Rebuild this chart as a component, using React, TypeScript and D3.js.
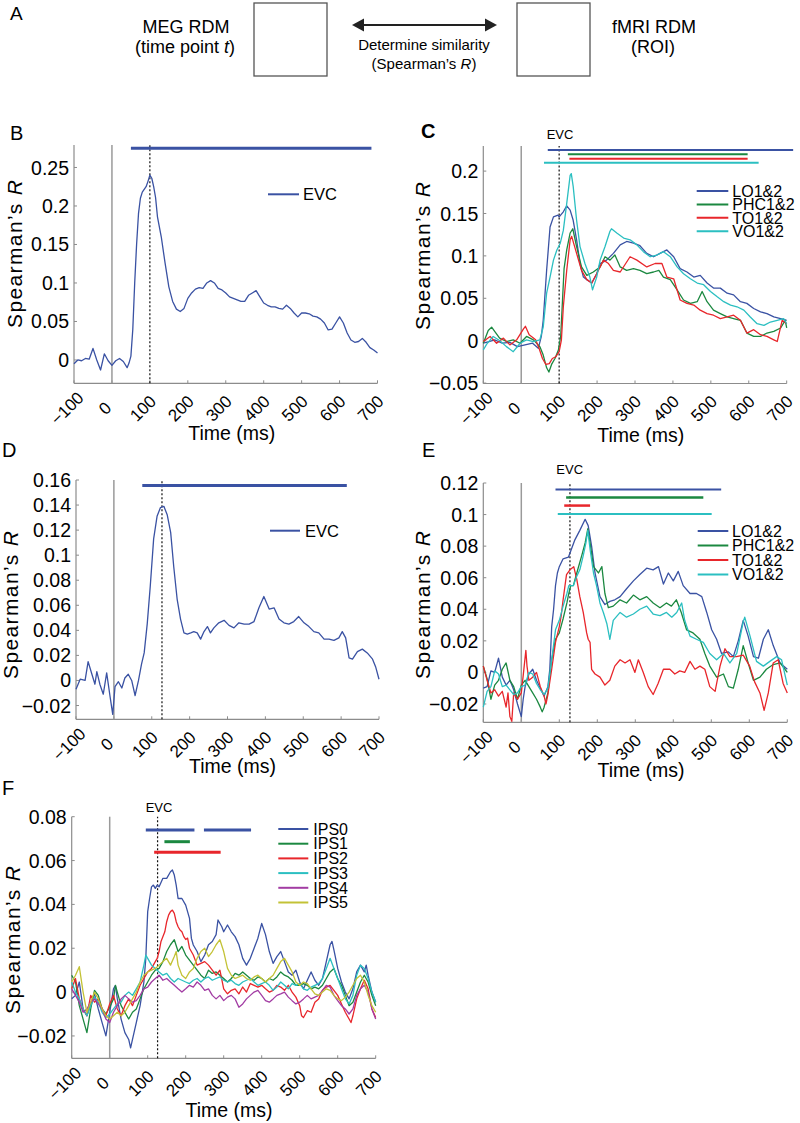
import React from 'react';
import * as d3 from 'd3';

type Pt = [number, number];

const BLUE = '#3a52a3';
const GREEN = '#1b8840';
const RED = '#e8262b';
const CYAN = '#2bbfc1';
const MAGENTA = '#a23ca3';
const YELLOW = '#c3c236';

const X_TICKS = [-100, 0, 100, 200, 300, 400, 500, 600, 700];

// ---------- Panel B ----------
const B_EVC: Pt[] = [[-100,-0.005],[-90,0.0],[-80,-0.001],[-70,0.002],[-60,0.001],[-50,0.015],[-40,0.0],[-30,-0.013],[-20,0.008],[-10,-0.001],[0,-0.007],[10,-0.001],[20,0.002],[30,-0.002],[40,-0.010],[45,-0.004],[50,0.005],[55,0.04],[60,0.10],[65,0.15],[70,0.19],[75,0.21],[80,0.218],[90,0.225],[95,0.232],[100,0.240],[105,0.236],[110,0.225],[115,0.211],[120,0.186],[130,0.160],[140,0.126],[150,0.095],[160,0.076],[170,0.066],[180,0.063],[190,0.067],[200,0.080],[210,0.087],[220,0.092],[230,0.094],[240,0.093],[250,0.100],[260,0.103],[270,0.100],[280,0.093],[290,0.091],[300,0.087],[310,0.082],[320,0.080],[330,0.078],[340,0.076],[350,0.076],[360,0.084],[370,0.087],[380,0.090],[390,0.082],[400,0.074],[410,0.071],[420,0.069],[430,0.069],[440,0.067],[450,0.066],[460,0.071],[470,0.067],[480,0.061],[490,0.056],[500,0.061],[510,0.061],[520,0.060],[530,0.057],[540,0.056],[550,0.053],[560,0.048],[570,0.039],[580,0.040],[590,0.048],[600,0.056],[610,0.048],[620,0.035],[630,0.026],[640,0.023],[650,0.024],[660,0.028],[670,0.023],[680,0.016],[690,0.013],[700,0.009]];
const B_TICKS = [0, 0.05, 0.1, 0.15, 0.2, 0.25];

// ---------- Panel C ----------
const C_LO: Pt[] = [[-100,-0.003],[-85,-0.001],[-70,0.001],[-50,-0.003],[-30,-0.002],[-10,-0.007],[10,-0.005],[30,-0.003],[45,-0.009],[53,0.005],[58,0.024],[67,0.083],[76,0.134],[85,0.146],[97,0.148],[100,0.146],[111,0.152],[120,0.159],[129,0.154],[137,0.142],[146,0.119],[155,0.091],[164,0.075],[173,0.072],[186,0.068],[199,0.079],[208,0.091],[217,0.093],[225,0.095],[243,0.103],[261,0.113],[278,0.117],[296,0.115],[313,0.112],[331,0.103],[349,0.099],[366,0.103],[384,0.107],[402,0.099],[419,0.085],[437,0.081],[455,0.075],[472,0.077],[490,0.068],[507,0.062],[525,0.062],[543,0.056],[560,0.054],[578,0.046],[595,0.044],[613,0.038],[631,0.034],[648,0.032],[666,0.028],[684,0.026],[700,0.024]];
const C_PHC: Pt[] = [[-100,-0.003],[-87,0.012],[-78,0.016],[-70,0.011],[-57,0.003],[-39,-0.001],[-21,0.001],[-3,-0.003],[14,0.005],[32,0.001],[49,-0.007],[58,-0.017],[67,-0.032],[73,-0.037],[80,-0.028],[89,-0.021],[98,-0.011],[104,0.005],[108,0.04],[113,0.085],[120,0.107],[129,0.127],[136,0.132],[146,0.111],[159,0.087],[173,0.077],[190,0.081],[208,0.087],[221,0.099],[234,0.095],[247,0.101],[261,0.087],[278,0.083],[296,0.085],[313,0.083],[331,0.079],[349,0.081],[363,0.083],[375,0.075],[393,0.072],[411,0.060],[428,0.048],[446,0.044],[464,0.046],[477,0.058],[490,0.046],[507,0.036],[525,0.032],[543,0.028],[560,0.026],[578,0.024],[595,0.009],[613,0.005],[631,0.005],[648,0.009],[666,0.011],[684,0.015],[696,0.024],[700,0.015]];
const C_TO: Pt[] = [[-100,-0.001],[-82,0.005],[-65,-0.003],[-47,0.003],[-30,-0.005],[-12,0.001],[6,0.014],[11,0.017],[21,0.007],[38,0.001],[47,-0.009],[56,-0.021],[65,-0.028],[74,-0.027],[82,-0.021],[91,-0.019],[100,-0.013],[106,0.001],[111,0.040],[120,0.083],[129,0.119],[133,0.123],[146,0.103],[159,0.083],[173,0.072],[186,0.068],[199,0.079],[217,0.095],[230,0.091],[243,0.083],[261,0.081],[287,0.099],[305,0.095],[331,0.087],[353,0.091],[371,0.091],[384,0.075],[402,0.073],[419,0.048],[437,0.044],[455,0.042],[472,0.036],[490,0.032],[507,0.030],[525,0.026],[543,0.028],[560,0.030],[578,0.024],[595,0.009],[613,0.013],[631,0.007],[648,0.005],[666,0.001],[675,-0.001],[688,0.024],[700,0.020]];
const C_VO: Pt[] = [[-100,-0.011],[-91,-0.004],[-74,0.005],[-56,0.0],[-39,-0.007],[-21,-0.013],[-3,-0.003],[14,0.001],[32,-0.001],[49,0.001],[58,0.016],[67,0.056],[76,0.075],[85,0.095],[94,0.107],[103,0.115],[111,0.130],[120,0.162],[129,0.195],[132,0.197],[137,0.182],[146,0.142],[155,0.111],[168,0.091],[181,0.075],[188,0.060],[199,0.075],[208,0.095],[221,0.111],[234,0.129],[238,0.132],[252,0.127],[270,0.121],[287,0.119],[305,0.113],[322,0.105],[340,0.099],[358,0.101],[375,0.105],[393,0.099],[411,0.087],[428,0.079],[446,0.073],[464,0.068],[481,0.066],[499,0.058],[516,0.052],[534,0.046],[552,0.042],[569,0.040],[587,0.036],[604,0.028],[622,0.020],[640,0.018],[657,0.022],[675,0.024],[692,0.026],[700,0.020]];
const C_TICKS = [-0.05, 0, 0.05, 0.1, 0.15, 0.2];

// ---------- Panel D ----------
const D_EVC: Pt[] = [[-100,-0.007],[-89,0.001],[-76,0.0],[-68,0.015],[-59,0.006],[-50,-0.003],[-45,0.007],[-37,-0.003],[-28,-0.011],[-19,0.006],[-10,-0.013],[-3,-0.027],[3,-0.005],[12,-0.001],[21,-0.006],[29,0.002],[38,0.005],[47,0.0],[56,-0.012],[65,0.0],[73,0.013],[80,0.022],[88,0.045],[96,0.075],[105,0.113],[114,0.131],[123,0.138],[132,0.139],[141,0.132],[150,0.118],[158,0.091],[167,0.065],[176,0.049],[185,0.038],[194,0.037],[203,0.038],[211,0.039],[220,0.038],[229,0.033],[238,0.039],[247,0.043],[255,0.038],[264,0.042],[277,0.046],[291,0.048],[304,0.044],[317,0.042],[330,0.046],[344,0.045],[357,0.045],[370,0.047],[383,0.058],[396,0.067],[410,0.057],[423,0.058],[436,0.049],[449,0.046],[462,0.045],[475,0.047],[488,0.051],[502,0.046],[515,0.043],[528,0.039],[541,0.038],[555,0.033],[568,0.033],[581,0.032],[594,0.034],[603,0.039],[612,0.034],[621,0.018],[630,0.017],[643,0.023],[656,0.025],[669,0.022],[683,0.017],[691,0.011],[700,0.001]];
const D_TICKS = [-0.02, 0, 0.02, 0.04, 0.06, 0.08, 0.1, 0.12, 0.14, 0.16];

// ---------- Panel E ----------
const E_LO: Pt[] = [[-100,-0.010],[-90,-0.009],[-80,0.001],[-70,0.0],[-60,0.009],[-50,-0.003],[-40,-0.008],[-30,-0.005],[-20,-0.011],[-10,-0.020],[0,-0.028],[5,-0.017],[10,-0.009],[20,-0.001],[30,0.002],[40,-0.005],[50,-0.010],[60,-0.015],[70,-0.009],[75,0.002],[80,0.029],[85,0.040],[90,0.055],[95,0.063],[100,0.067],[110,0.072],[124,0.073],[141,0.084],[154,0.090],[168,0.097],[176,0.093],[185,0.080],[194,0.063],[207,0.048],[220,0.043],[233,0.045],[246,0.046],[260,0.048],[277,0.053],[295,0.058],[312,0.062],[330,0.066],[347,0.065],[361,0.067],[374,0.056],[387,0.063],[400,0.058],[413,0.064],[426,0.055],[444,0.050],[461,0.050],[475,0.048],[488,0.038],[501,0.027],[514,0.021],[527,0.012],[545,0.013],[558,0.010],[571,0.020],[584,0.033],[597,0.023],[611,0.010],[624,0.009],[637,0.021],[650,0.027],[663,0.017],[681,0.006],[700,0.002]];
const E_PHC: Pt[] = [[-100,0.004],[-90,-0.004],[-80,-0.017],[-70,-0.008],[-60,-0.005],[-50,0.002],[-40,0.006],[-30,-0.005],[-20,-0.009],[-10,-0.017],[0,-0.008],[10,-0.005],[20,-0.009],[30,-0.013],[40,-0.017],[50,-0.022],[55,-0.025],[60,-0.022],[70,-0.013],[80,0.008],[90,0.021],[100,0.025],[110,0.034],[120,0.044],[125,0.050],[130,0.055],[137,0.055],[146,0.063],[159,0.074],[168,0.082],[175,0.091],[181,0.082],[190,0.067],[203,0.063],[212,0.067],[220,0.050],[229,0.041],[242,0.042],[260,0.046],[277,0.044],[295,0.049],[312,0.046],[330,0.048],[347,0.044],[365,0.041],[382,0.044],[395,0.042],[408,0.046],[421,0.038],[435,0.027],[452,0.025],[470,0.021],[483,0.012],[496,0.004],[514,-0.003],[532,-0.001],[545,-0.009],[558,-0.010],[571,0.002],[584,0.017],[597,0.006],[611,-0.005],[628,-0.003],[645,0.002],[663,0.005],[681,0.006],[694,0.002],[700,0.0]];
const E_TO: Pt[] = [[-100,0.004],[-90,-0.005],[-80,-0.013],[-70,-0.011],[-60,-0.015],[-50,-0.012],[-40,-0.022],[-35,-0.013],[-30,-0.028],[-25,-0.031],[-20,-0.013],[-10,-0.017],[0,-0.013],[5,-0.002],[12,0.014],[15,0.004],[20,-0.005],[30,-0.003],[40,0.0],[50,-0.009],[60,-0.015],[65,-0.020],[70,-0.014],[80,0.002],[90,0.019],[100,0.029],[105,0.036],[110,0.046],[115,0.055],[119,0.062],[128,0.065],[138,0.067],[146,0.059],[154,0.048],[163,0.038],[172,0.025],[176,0.021],[181,0.019],[185,0.002],[194,-0.001],[207,-0.003],[220,-0.008],[233,-0.005],[246,0.004],[260,0.008],[273,0.006],[286,0.008],[299,0.0],[308,0.008],[321,0.0],[334,-0.009],[347,-0.014],[360,-0.007],[374,0.002],[391,0.002],[404,-0.001],[417,0.001],[430,0.0],[444,0.007],[457,0.002],[470,0.004],[483,0.002],[496,-0.009],[510,-0.012],[523,0.004],[536,0.015],[549,0.010],[566,0.010],[584,0.011],[601,0.004],[614,-0.006],[628,-0.013],[639,-0.024],[650,-0.013],[663,0.006],[676,0.008],[689,-0.007],[700,-0.013]];
const E_VO: Pt[] = [[-100,-0.022],[-90,-0.012],[-80,-0.009],[-70,0.001],[-60,-0.001],[-50,-0.009],[-40,-0.008],[-30,-0.011],[-20,-0.014],[-10,-0.013],[0,-0.009],[10,-0.008],[20,0.0],[30,-0.001],[40,-0.007],[50,-0.011],[60,-0.014],[70,-0.010],[80,0.008],[90,0.027],[100,0.033],[110,0.042],[120,0.050],[125,0.055],[137,0.055],[146,0.061],[154,0.065],[163,0.074],[170,0.082],[175,0.090],[181,0.078],[190,0.063],[198,0.055],[207,0.044],[216,0.038],[225,0.031],[233,0.021],[242,0.033],[260,0.038],[277,0.035],[295,0.037],[312,0.040],[330,0.042],[347,0.037],[365,0.036],[382,0.038],[396,0.035],[409,0.038],[422,0.044],[430,0.033],[444,0.023],[461,0.021],[479,0.019],[496,0.012],[514,0.008],[532,0.012],[549,0.006],[567,0.012],[584,0.032],[588,0.035],[602,0.023],[619,0.007],[637,0.004],[654,0.007],[672,0.010],[685,0.008],[700,-0.008]];
const E_TICKS = [-0.02, 0, 0.02, 0.04, 0.06, 0.08, 0.1, 0.12];

// ---------- Panel F ----------
const F_IPS0: Pt[] = [[-100,-0.003],[-90,-0.0015],[-80,0.0046],[-70,-0.0077],[-60,-0.0108],[-50,-0.0054],[-40,-0.0008],[-30,-0.0077],[-20,-0.0139],[-10,-0.020],[0,-0.0092],[10,0.0015],[15,0.003],[20,-0.003],[30,-0.0123],[40,-0.0185],[50,-0.0216],[55,-0.0254],[60,-0.0216],[70,-0.0139],[80,-0.0062],[90,0.0046],[95,0.0154],[100,0.0367],[105,0.0427],[110,0.048],[115,0.0488],[120,0.0473],[125,0.0488],[130,0.048],[140,0.0519],[150,0.0519],[160,0.0549],[165,0.0557],[170,0.0534],[175,0.0488],[180,0.0427],[190,0.0427],[200,0.0397],[210,0.0336],[215,0.0245],[220,0.0215],[230,0.0185],[240,0.0139],[250,0.0169],[260,0.0216],[270,0.0231],[280,0.0262],[285,0.0329],[295,0.0298],[300,0.0275],[310,0.0306],[320,0.0275],[330,0.0253],[340,0.0216],[350,0.0154],[360,0.0123],[370,0.0154],[380,0.020],[390,0.0246],[400,0.0313],[410,0.0262],[420,0.0185],[430,0.0131],[440,0.0162],[450,0.0185],[460,0.0139],[470,0.0092],[480,0.0077],[490,0.010],[500,0.0046],[510,0.0015],[520,0.0054],[530,0.0092],[540,0.0054],[550,0.0031],[560,0.0062],[570,0.0139],[580,0.0216],[585,0.0231],[590,0.0193],[600,0.0108],[610,0.0046],[620,0.0],[630,-0.0031],[640,0.0015],[650,0.0092],[660,0.0123],[670,0.0092],[675,0.0123],[680,0.0077],[690,0.0],[700,-0.0046]];
const F_IPS1: Pt[] = [[-100,0.0077],[-90,0.0046],[-80,-0.0062],[-70,-0.0123],[-60,-0.0185],[-50,-0.0077],[-40,0.0008],[-30,-0.0015],[-20,-0.0077],[-10,-0.010],[0,-0.0069],[10,-0.0031],[15,0.0031],[20,0.0],[30,-0.0062],[40,-0.0092],[50,-0.0123],[60,-0.0092],[70,-0.0077],[80,-0.0031],[90,0.0015],[100,0.0046],[110,0.0077],[120,0.010],[130,0.0108],[140,0.0139],[150,0.0185],[160,0.0216],[170,0.0239],[180,0.0185],[190,0.0208],[200,0.0169],[210,0.0146],[220,0.0123],[230,0.010],[240,0.0077],[250,0.0062],[260,0.010],[270,0.0085],[280,0.0092],[290,0.0077],[300,0.0062],[310,0.0046],[320,0.0062],[330,0.0085],[340,0.0077],[350,0.0092],[360,0.0077],[370,0.0062],[380,0.0054],[390,0.0069],[400,0.0062],[410,0.0046],[420,0.0062],[430,0.0054],[440,0.0069],[450,0.0092],[460,0.0077],[470,0.0069],[480,0.0054],[490,0.0031],[500,0.0031],[510,0.0039],[520,0.0031],[530,0.0015],[540,0.0023],[550,0.0015],[560,0.0031],[570,0.0062],[580,0.0092],[590,0.0108],[600,0.0062],[610,0.0031],[620,-0.0015],[630,-0.0062],[640,-0.0046],[650,0.0],[660,0.0046],[670,0.0077],[680,0.0046],[690,-0.0015],[700,-0.0062]];
const F_IPS2: Pt[] = [[-100,0.0015],[-90,0.0062],[-80,-0.0031],[-70,-0.0077],[-60,-0.0108],[-50,-0.0015],[-40,-0.0046],[-30,-0.0031],[-20,-0.0077],[-10,-0.0108],[0,-0.0054],[10,-0.0015],[20,-0.0077],[30,-0.0108],[40,-0.0062],[50,-0.0031],[60,-0.0062],[70,-0.0015],[80,0.0031],[90,0.0062],[100,0.0092],[110,0.0108],[120,0.0139],[125,0.0154],[130,0.0185],[135,0.0231],[145,0.0275],[150,0.0321],[155,0.0351],[160,0.0367],[165,0.0374],[170,0.0359],[175,0.0321],[180,0.0298],[185,0.0283],[190,0.0275],[195,0.0253],[200,0.024],[205,0.0246],[210,0.020],[220,0.0169],[230,0.0123],[240,0.0131],[250,0.0139],[260,0.0123],[270,0.010],[280,0.0077],[290,0.010],[300,0.0015],[310,-0.0008],[320,0.0008],[330,0.0015],[340,-0.0008],[350,0.0023],[360,0.0],[370,0.0039],[380,0.0031],[390,0.0023],[400,0.0031],[410,0.0015],[420,0.0],[430,0.0008],[440,0.0031],[450,0.0023],[460,0.0008],[470,0.0031],[480,0.0],[490,-0.0023],[500,-0.0062],[505,-0.0108],[510,-0.0116],[520,-0.0085],[530,-0.0092],[540,-0.0046],[550,-0.0031],[560,0.0008],[570,0.0023],[580,0.0031],[590,0.0008],[600,-0.0015],[610,-0.0054],[620,-0.0092],[630,-0.0123],[635,-0.0139],[640,-0.0108],[650,-0.0031],[660,0.0015],[670,0.0054],[680,0.0015],[690,-0.0077],[700,-0.0116]];
const F_IPS3: Pt[] = [[-100,0.0046],[-90,0.0],[-80,-0.0031],[-70,-0.0077],[-60,-0.0108],[-50,-0.0062],[-40,-0.0023],[-30,-0.0046],[-20,-0.0092],[-10,-0.0116],[0,-0.010],[10,-0.0077],[20,-0.0054],[30,-0.0046],[40,-0.0015],[50,0.0],[60,-0.0015],[70,0.0015],[80,0.0046],[90,0.0123],[95,0.0169],[100,0.0154],[110,0.0123],[120,0.0108],[130,0.0092],[140,0.0077],[150,0.0085],[160,0.0062],[170,0.0046],[180,0.0062],[190,0.0054],[200,0.0046],[210,0.0039],[220,0.0054],[230,0.0062],[240,0.0046],[250,0.0062],[260,0.0069],[270,0.0054],[280,0.0062],[290,0.0069],[300,0.0054],[310,0.0046],[320,0.0054],[330,0.0039],[340,0.0031],[350,0.0046],[360,0.0054],[370,0.0062],[380,0.0046],[390,0.0031],[400,0.0039],[410,0.0046],[420,0.0031],[430,0.0008],[440,0.0023],[450,0.0046],[460,0.0031],[470,0.0015],[480,0.0039],[490,0.0031],[500,0.0039],[510,0.0015],[520,0.0008],[530,0.0023],[540,0.0031],[550,0.0039],[560,0.0062],[570,0.0108],[580,0.0154],[590,0.0108],[600,0.0062],[610,0.0015],[620,-0.0031],[630,-0.0054],[640,-0.0015],[650,0.0077],[660,0.0123],[670,0.0108],[680,0.0062],[690,0.0],[700,-0.0046]];
const F_IPS4: Pt[] = [[-100,0.0015],[-90,-0.0015],[-80,-0.0046],[-70,-0.0092],[-60,-0.0077],[-50,-0.0046],[-40,-0.0031],[-30,-0.0054],[-20,-0.0077],[-10,-0.0123],[0,-0.0139],[10,-0.0092],[20,-0.0062],[30,-0.0031],[40,-0.0015],[50,-0.0031],[60,-0.0046],[70,-0.0039],[80,-0.0015],[90,0.0015],[100,0.0023],[110,0.0046],[120,0.0062],[130,0.0077],[140,0.0054],[150,0.0062],[160,0.0046],[170,0.0031],[180,0.0015],[190,0.0],[200,0.0015],[210,0.0031],[220,0.0023],[230,0.0046],[240,0.0031],[250,0.0008],[260,0.0015],[270,-0.0015],[280,-0.0031],[290,-0.0015],[300,-0.0039],[310,-0.0023],[320,-0.0015],[330,-0.0031],[340,-0.0069],[350,-0.0054],[360,-0.0031],[370,-0.0015],[380,0.0],[390,0.0008],[400,-0.0015],[410,-0.0039],[420,-0.0046],[430,-0.0031],[440,-0.0015],[450,-0.0008],[460,0.0],[470,-0.0023],[480,-0.0039],[490,-0.0054],[500,-0.0046],[510,-0.0031],[520,-0.0015],[530,-0.0031],[540,-0.0023],[550,-0.0015],[560,0.0008],[570,0.0031],[580,0.0023],[590,-0.0015],[600,-0.0039],[610,-0.0062],[620,-0.0077],[630,-0.010],[640,-0.0077],[650,-0.0015],[660,0.0015],[670,0.0031],[680,0.0],[690,-0.0077],[700,-0.0123]];
const F_IPS5: Pt[] = [[-100,0.0046],[-90,0.0077],[-80,0.0116],[-70,0.0],[-60,-0.0092],[-50,-0.0046],[-40,0.0],[-30,-0.0031],[-20,-0.0077],[-10,-0.0108],[0,-0.0123],[10,-0.0108],[20,-0.0092],[30,-0.0108],[40,-0.0092],[50,-0.0062],[60,-0.0031],[70,0.0],[80,0.0046],[90,0.0077],[100,0.0092],[110,0.010],[120,0.0108],[130,0.0123],[140,0.0139],[150,0.0154],[160,0.0123],[170,0.0162],[175,0.0185],[180,0.0123],[190,0.0077],[200,0.0062],[210,0.0092],[220,0.0108],[230,0.0154],[240,0.0185],[250,0.020],[260,0.0162],[270,0.0185],[280,0.0216],[290,0.0239],[300,0.0185],[310,0.0108],[320,0.0077],[330,0.0062],[340,0.0069],[350,0.0077],[360,0.0062],[370,0.0054],[380,0.0069],[390,0.0077],[400,0.0062],[410,0.0046],[420,0.0062],[430,0.0077],[440,0.0108],[450,0.0139],[460,0.0154],[470,0.0123],[480,0.0092],[490,0.0046],[500,0.0031],[510,0.0046],[520,0.0039],[530,0.0015],[540,-0.0008],[550,-0.0015],[560,0.0],[570,0.0015],[580,0.0008],[590,-0.0015],[600,-0.0031],[610,-0.0039],[620,-0.0023],[630,0.0],[640,0.0031],[650,0.0062],[660,0.0077],[670,0.0046],[680,-0.0015],[690,-0.0062],[700,-0.0092]];
const F_TICKS = [-0.02, 0, 0.02, 0.04, 0.06, 0.08];

// ---------- Significance bars: start ms, end ms, y value ----------
const B_BARS = [{ t0: 50, t1: 684, v: 0.275, color: BLUE, w: 3 }];
const C_BARS = [
  { t0: 70, t1: 717, v: 0.2249, color: BLUE, w: 2 },
  { t0: 123, t1: 597, v: 0.2198, color: GREEN, w: 2 },
  { t0: 127, t1: 597, v: 0.2146, color: RED, w: 2 },
  { t0: 60, t1: 626, v: 0.2099, color: CYAN, w: 2 },
];
const D_BARS = [{ t0: 75, t1: 615, v: 0.1556, color: BLUE, w: 3 }];
const E_BARS = [
  { t0: 90, t1: 526, v: 0.1159, color: BLUE, w: 2 },
  { t0: 118, t1: 479, v: 0.1108, color: GREEN, w: 2.5 },
  { t0: 113, t1: 181, v: 0.1057, color: RED, w: 2.5 },
  { t0: 96, t1: 501, v: 0.1004, color: CYAN, w: 2 },
];
const F_BARS = [
  { t0: 95, t1: 223, v: 0.0739, color: BLUE, w: 3 },
  { t0: 248, t1: 372, v: 0.0739, color: BLUE, w: 3 },
  { t0: 144, t1: 211, v: 0.0686, color: GREEN, w: 3 },
  { t0: 117, t1: 292, v: 0.0638, color: RED, w: 3 },
];

const FONT = "'Liberation Sans', Arial, Helvetica, sans-serif";

type Series = { name: string; color: string; data: Pt[] };
type Bar = { t0: number; t1: number; v: number; color: string; w: number };

interface PanelCfg {
  letter: string; letterX: number; letterY: number; letterBold?: boolean;
  xRange: [number, number]; yRange: [number, number]; yDomain: [number, number];
  yTicks: number[]; series: Series[]; bars: Bar[]; dotted: number;
  evc?: [number, number];
  legend: { x0: number; x1: number; tx: number; y0: number; dy: number; size: number };
  ylab: [number, number]; xlab: [number, number];
}

const fmt = (v: number) => {
  if (Math.abs(v) < 1e-9) return '0';
  const s = String(+Math.abs(v).toFixed(3));
  return (v < 0 ? '\u2212' : '') + s;
};
const fmtX = (v: number) => (v < 0 ? '\u2212' : '') + Math.abs(v);

const AXIS = '#8c8c8c';

function Panel({ c }: { c: PanelCfg }) {
  const x = d3.scaleLinear().domain([-100, 700]).range(c.xRange);
  const y = d3.scaleLinear().domain(c.yDomain).range(c.yRange);
  const line = d3.line<Pt>().x(d => x(d[0])).y(d => y(d[1]));
  const yb = c.yRange[0];
  const yt = c.yRange[1];
  return (
    <g fontFamily={FONT}>
      <text x={c.letterX} y={c.letterY} fontSize={20} fontWeight={c.letterBold ? 'bold' : 'normal'}>{c.letter}</text>
      {/* axes */}
      <line x1={c.xRange[0]} x2={c.xRange[1]} y1={yb} y2={yb} stroke={AXIS} strokeWidth={1.2} />
      <line x1={c.xRange[0]} x2={c.xRange[0]} y1={yb} y2={yt} stroke={AXIS} strokeWidth={1.2} />
      {X_TICKS.map(t => (
        <g key={'xt' + t}>
          <line x1={x(t)} x2={x(t)} y1={yb} y2={yb - 3} stroke={AXIS} strokeWidth={1} />
          <text transform={`translate(${x(t) - 7},${yb + 25}) rotate(-45)`} textAnchor="middle" dy="0.35em" fontSize={17}>{fmtX(t)}</text>
        </g>
      ))}
      {c.yTicks.map(v => (
        <g key={'yt' + v}>
          <line x1={c.xRange[0]} x2={c.xRange[0] + 3} y1={y(v)} y2={y(v)} stroke={AXIS} strokeWidth={1} />
          <text x={c.xRange[0] - 5} y={y(v)} dy="0.36em" textAnchor="end" fontSize={19.5}>{fmt(v)}</text>
        </g>
      ))}
      {/* stimulus onset line */}
      <line x1={x(0)} x2={x(0)} y1={yb} y2={yt} stroke="#9a9a9a" strokeWidth={1.5} />
      {/* peak dotted line */}
      <line x1={x(c.dotted)} x2={x(c.dotted)} y1={yb} y2={yt} stroke="#111" strokeWidth={1.2} strokeDasharray="2,2" />
      {c.evc && <text x={c.evc[0]} y={c.evc[1]} fontSize={13} textAnchor="middle">EVC</text>}
      {/* significance bars */}
      {c.bars.map((b, i) => (
        <line key={'b' + i} x1={x(b.t0)} x2={x(b.t1)} y1={y(b.v)} y2={y(b.v)} stroke={b.color} strokeWidth={b.w} />
      ))}
      {/* series */}
      {c.series.map(s => (
        <path key={s.name} d={line(s.data) || ''} fill="none" stroke={s.color} strokeWidth={1.3} strokeLinejoin="round" />
      ))}
      {/* legend */}
      {c.series.map((s, i) => (
        <g key={'lg' + s.name}>
          <line x1={c.legend.x0} x2={c.legend.x1} y1={c.legend.y0 + i * c.legend.dy} y2={c.legend.y0 + i * c.legend.dy} stroke={s.color} strokeWidth={2} />
          <text x={c.legend.tx} y={c.legend.y0 + i * c.legend.dy} dy="0.36em" fontSize={c.legend.size}>{s.name}</text>
        </g>
      ))}
      <text transform={`translate(${c.ylab[0]},${c.ylab[1]}) rotate(-90)`} textAnchor="middle" fontSize={21}
        textLength={148} lengthAdjust="spacing">
        Spearman’s <tspan fontStyle="italic">R</tspan>
      </text>
      <text x={c.xlab[0]} y={c.xlab[1]} textAnchor="middle" fontSize={19.5}>Time (ms)</text>
    </g>
  );
}

const PANELS: PanelCfg[] = [
  {
    letter: 'B', letterX: 10, letterY: 140,
    xRange: [74, 377.5], yRange: [383.3, 145], yDomain: [-0.0303, 0.2792], yTicks: B_TICKS,
    series: [{ name: 'EVC', color: BLUE, data: B_EVC }], bars: B_BARS, dotted: 100,
    legend: { x0: 268, x1: 299, tx: 303, y0: 194.3, dy: 13, size: 16.5 },
    ylab: [22, 254], xlab: [231.7, 440],
  },
  {
    letter: 'C', letterX: 421, letterY: 138, letterBold: true,
    xRange: [483.3, 786.7], yRange: [383.5, 146], yDomain: [-0.0505, 0.2296], yTicks: C_TICKS,
    series: [
      { name: 'LO1&2', color: BLUE, data: C_LO },
      { name: 'PHC1&2', color: GREEN, data: C_PHC },
      { name: 'TO1&2', color: RED, data: C_TO },
      { name: 'VO1&2', color: CYAN, data: C_VO },
    ],
    bars: C_BARS, dotted: 100, evc: [560, 138.5],
    legend: { x0: 696.7, x1: 728.3, tx: 732.3, y0: 191, dy: 13.4, size: 16 },
    ylab: [430, 256], xlab: [640.8, 441.7],
  },
  {
    letter: 'D', letterX: 2, letterY: 457,
    xRange: [76, 379], yRange: [719.3, 480], yDomain: [-0.031, 0.16], yTicks: D_TICKS,
    series: [{ name: 'EVC', color: BLUE, data: D_EVC }], bars: D_BARS, dotted: 127,
    legend: { x0: 270, x1: 300, tx: 305, y0: 530.7, dy: 13, size: 16.5 },
    ylab: [18, 605], xlab: [232.5, 773],
  },
  {
    letter: 'E', letterX: 422, letterY: 457,
    xRange: [483.3, 787.3], yRange: [722.3, 483], yDomain: [-0.0316, 0.12], yTicks: E_TICKS,
    series: [
      { name: 'LO1&2', color: BLUE, data: E_LO },
      { name: 'PHC1&2', color: GREEN, data: E_PHC },
      { name: 'TO1&2', color: RED, data: E_TO },
      { name: 'VO1&2', color: CYAN, data: E_VO },
    ],
    bars: E_BARS, dotted: 128, evc: [569.7, 474],
    legend: { x0: 697.7, x1: 728.3, tx: 732, y0: 531, dy: 14.5, size: 16 },
    ylab: [430, 605], xlab: [641, 776.7],
  },
  {
    letter: 'F', letterX: 2, letterY: 795,
    xRange: [71.7, 375.7], yRange: [1058.3, 816.7], yDomain: [-0.0302, 0.08], yTicks: F_TICKS,
    series: [
      { name: 'IPS0', color: BLUE, data: F_IPS0 },
      { name: 'IPS1', color: GREEN, data: F_IPS1 },
      { name: 'IPS2', color: RED, data: F_IPS2 },
      { name: 'IPS3', color: CYAN, data: F_IPS3 },
      { name: 'IPS4', color: MAGENTA, data: F_IPS4 },
      { name: 'IPS5', color: YELLOW, data: F_IPS5 },
    ],
    bars: F_BARS, dotted: 126, evc: [159, 812.3],
    legend: { x0: 278.3, x1: 308.3, tx: 313.3, y0: 829, dy: 14.7, size: 16 },
    ylab: [20, 940], xlab: [229, 1116.7],
  },
];

function PanelA() {
  const ah = 12; // arrow head length
  const aw = 6.5;
  const ax0 = 352, ax1 = 497, ay = 25;
  return (
    <g fontFamily={FONT}>
      <text x={10} y={20} fontSize={19}>A</text>
      <rect x={254} y={3} width={73} height={73} fill="none" stroke="#555" strokeWidth={1.3} />
      <rect x={517} y={3} width={73} height={73} fill="none" stroke="#555" strokeWidth={1.3} />
      <line x1={ax0 + ah - 1} x2={ax1 - ah + 1} y1={ay} y2={ay} stroke="#222" strokeWidth={2} />
      <path d={`M${ax0},${ay} L${ax0 + ah},${ay - aw} L${ax0 + ah},${ay + aw} Z`} fill="#222" />
      <path d={`M${ax1},${ay} L${ax1 - ah},${ay - aw} L${ax1 - ah},${ay + aw} Z`} fill="#222" />
      <text x={186} y={33} fontSize={18} textAnchor="middle">MEG RDM</text>
      <text x={185} y={53} fontSize={18} textAnchor="middle">(time point <tspan fontStyle="italic">t</tspan>)</text>
      <text x={424} y={50} fontSize={15} textAnchor="middle">Determine similarity</text>
      <text x={424} y={69} fontSize={15} textAnchor="middle">(Spearman’s <tspan fontStyle="italic">R</tspan>)</text>
      <text x={654} y={33} fontSize={18} textAnchor="middle">fMRI RDM</text>
      <text x={653} y={53} fontSize={18} textAnchor="middle">(ROI)</text>
    </g>
  );
}

export default function App() {
  return (
    <svg width={800} height={1123} viewBox="0 0 800 1123"
      style={{ position: 'absolute', left: 0, top: 0, background: '#fff', display: 'block' }}>
      <rect x={0} y={0} width={800} height={1123} fill="#fff" />
      <PanelA />
      {PANELS.map(p => <Panel key={p.letter} c={p} />)}
    </svg>
  );
}
